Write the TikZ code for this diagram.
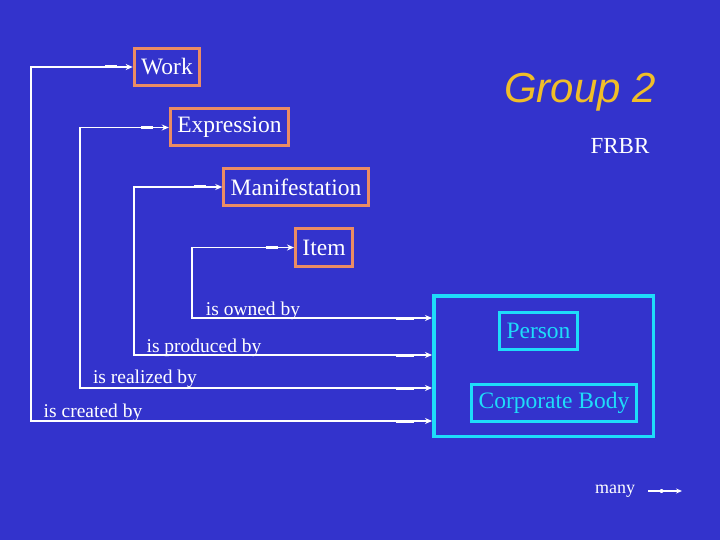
\documentclass[tikz,border=0pt]{standalone}
\usepackage{fontspec}
\setmainfont{Liberation Serif}
\newfontfamily\grpfont{Liberation Sans}
\usetikzlibrary{positioning,arrows.meta,decorations.markings}
\definecolor{slide}{RGB}{51,51,204}
\definecolor{frbr}{RGB}{235,140,100}
\definecolor{agent}{RGB}{30,220,250}
\definecolor{title}{RGB}{240,190,40}
\tikzset{
  entity/.style={draw=frbr, line width=3pt, text=white, inner xsep=7pt,
                 minimum height=37pt, font=\fontsize{23.5}{26}\selectfont},
  agentbox/.style={entity, draw=agent, text=agent},
  lbl/.style={text=white, font=\fontsize{19.5}{21}\selectfont, inner sep=0pt},
  rel/.style={draw=white, line width=1.5pt,
              {Stealth[length=7pt,width=6pt]}-{Stealth[length=7pt,width=6pt]},
              postaction={decorate, decoration={markings,
                mark=at position 16pt with {\draw[-, line width=3pt] (0,0) -- (12pt,0);},
                mark=at position -36pt with {\draw[-, line width=3pt] (0,0) -- (18pt,0);}}}},
  onerel/.style={draw=white, line width=1.5pt, -{Stealth[length=6pt,width=5pt]},
              postaction={decorate, decoration={markings,
                mark=at position 0.4 with {\fill[white] (0,0) circle (2pt);}}}},
}
\begin{document}
\begin{tikzpicture}[x=1pt, y=-1pt]
  \fill[slide] (0,0) rectangle (720,540);
  \useasboundingbox (0,0) rectangle (720,540);

  % FRBR group 1 entities
  \node[entity] (work) at (167,67) {Work};
  \node[entity] (expr) at (229.5,127.5) {Expression};
  \node[entity] (manif) at (296,187) {Manifestation};
  \node[entity] (item) at (324,247.5) {Item};

  \node[text=title, font=\grpfont\itshape\fontsize{42}{46}\selectfont] (grp2) at (580,92) {Group 2};
  \node[text=white, font=\fontsize{23}{26}\selectfont] (frbr) at (620,146) {FRBR};

  % group 2 entities
  \node[draw=agent, line width=3.5pt, minimum width=219.5pt, minimum height=140.5pt,
        inner sep=0pt] (grp) at (543.5,366) {};
  \node[agentbox] (person) at (538.5,330.5) {Person};
  \node[agentbox] (corp) at (554,403) {Corporate Body};

  % relationships
  \coordinate (cw) at (31,421);
  \coordinate (ce) at (80,388);
  \coordinate (cm) at (134,355);
  \coordinate (ci) at (192,318);
  \draw[rel] (work.west) -| (cw) -- (cw -| grp.west);
  \draw[rel] (expr.west) -| (ce) -- (ce -| grp.west);
  \draw[rel] (manif.west) -| (cm) -- (cm -| grp.west);
  \draw[rel] (item.west) -| (ci) -- (ci -| grp.west);

  \node[lbl] (own) at (253,311) {is owned by};
  \node[lbl] (prod) at (204,348) {is produced by};
  \node[lbl] (real) at (145,379) {is realized by};
  \node[lbl] (creat) at (93,413) {is created by};

  % legend
  \node[lbl, font=\fontsize{18}{20}\selectfont] (many) at (615,491) {many};
  \coordinate (m1) at (648,491);
  \coordinate (m2) at (682,491);
  \draw[onerel] (m1) -- (m2);
\end{tikzpicture}
\end{document}
